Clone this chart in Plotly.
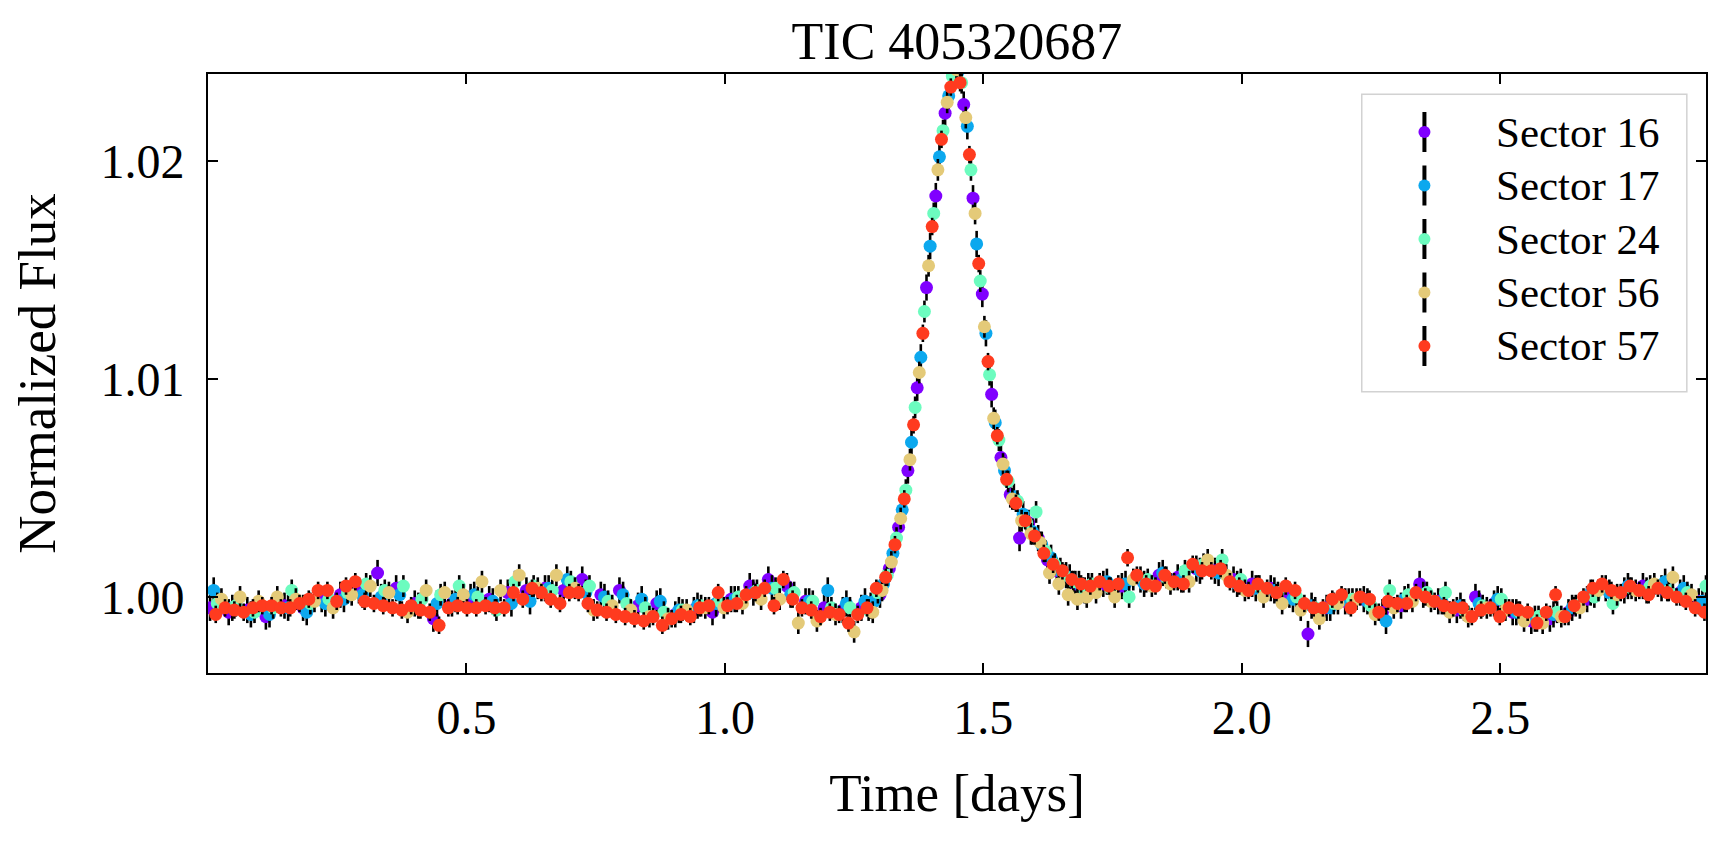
import plotly.graph_objects as go

# ---------------- data ----------------
sector_names = ["Sector 16", "Sector 17", "Sector 24", "Sector 56", "Sector 57"]
sector_colors = ["#8000ff", "#0ca8ee", "#6cfcbf", "#e4ca78", "#ff3b1f"]
flux_err = [0.0006, 0.0006, 0.0005, 0.0005, 0.0004]

x_tick_vals = [0.5, 1.0, 1.5, 2.0, 2.5]
x_tick_text = ["0.5", "1.0", "1.5", "2.0", "2.5"]
y_tick_vals = [1.00, 1.01, 1.02]
y_tick_text = ["1.00", "1.01", "1.02"]

time_s16 = [0.004, 0.040, 0.076, 0.112, 0.148, 0.184, 0.220, 0.256, 0.292, 0.328, 0.364, 0.400,
            0.436, 0.472, 0.508, 0.544, 0.580, 0.616, 0.652, 0.688, 0.724, 0.760, 0.796, 0.832,
            0.868, 0.904, 0.940, 0.976, 1.012, 1.048, 1.084, 1.120, 1.156, 1.192, 1.228, 1.264,
            1.282, 1.300, 1.318, 1.336, 1.354, 1.372, 1.390, 1.408, 1.426, 1.444, 1.462, 1.480,
            1.498, 1.516, 1.534, 1.552, 1.570, 1.588, 1.606, 1.624, 1.642, 1.660, 1.678, 1.696,
            1.732, 1.768, 1.804, 1.840, 1.876, 1.912, 1.948, 1.984, 2.020, 2.056, 2.092, 2.128,
            2.164, 2.200, 2.236, 2.272, 2.308, 2.344, 2.380, 2.416, 2.452, 2.488, 2.524, 2.560,
            2.596, 2.632, 2.668, 2.704, 2.740, 2.776, 2.812, 2.848, 2.884]
flux_s16 = [0.9995, 0.9993, 0.9994, 0.9991, 0.9996, 0.9995, 0.9999, 1.0001, 1.0003, 1.0011, 1.0004, 0.9997,
            0.9990, 0.9997, 1.0000, 0.9999, 1.0002, 1.0003, 1.0004, 1.0003, 1.0008, 1.0001, 1.0003, 0.9996,
            0.9997, 0.9992, 0.9994, 0.9993, 0.9999, 1.0005, 1.0008, 1.0005, 0.9998, 0.9995, 0.9994, 0.9995,
            0.9996, 1.0001, 1.0013, 1.0032, 1.0058, 1.0096, 1.0142, 1.0184, 1.0222, 1.0241, 1.0226, 1.0183,
            1.0139, 1.0093, 1.0064, 1.0047, 1.0027, 1.0034, 1.0027, 1.0017, 1.0012, 1.0010, 1.0006, 1.0003,
            1.0006, 1.0005, 1.0008, 1.0010, 1.0009, 1.0013, 1.0012, 1.0008, 1.0006, 1.0004, 1.0001, 0.9983,
            0.9995, 0.9998, 0.9999, 0.9993, 0.9996, 1.0006, 0.9998, 0.9994, 1.0000, 0.9997, 0.9993, 0.9989,
            0.9990, 0.9993, 0.9999, 1.0004, 1.0003, 1.0005, 1.0004, 1.0002, 0.9998]

time_s17 = [0.011, 0.047, 0.083, 0.119, 0.155, 0.191, 0.227, 0.263, 0.299, 0.335, 0.371, 0.407,
            0.443, 0.479, 0.515, 0.551, 0.587, 0.623, 0.659, 0.695, 0.731, 0.767, 0.803, 0.839,
            0.875, 0.911, 0.947, 0.983, 1.019, 1.055, 1.091, 1.127, 1.163, 1.199, 1.235, 1.271,
            1.289, 1.307, 1.325, 1.343, 1.361, 1.379, 1.397, 1.415, 1.433, 1.451, 1.469, 1.487,
            1.505, 1.523, 1.541, 1.559, 1.577, 1.595, 1.613, 1.631, 1.649, 1.667, 1.685, 1.703,
            1.739, 1.775, 1.811, 1.847, 1.883, 1.919, 1.955, 1.991, 2.027, 2.063, 2.099, 2.135,
            2.171, 2.207, 2.243, 2.279, 2.315, 2.351, 2.387, 2.423, 2.459, 2.495, 2.531, 2.567,
            2.603, 2.639, 2.675, 2.711, 2.747, 2.783, 2.819, 2.855, 2.891]
flux_s17 = [1.0003, 0.9995, 0.9992, 0.9992, 0.9995, 0.9993, 0.9997, 0.9999, 1.0001, 1.0000, 1.0001, 0.9996,
            0.9997, 0.9999, 1.0001, 0.9998, 0.9997, 0.9998, 1.0004, 1.0008, 1.0002, 1.0000, 1.0001, 0.9999,
            0.9998, 0.9994, 0.9996, 0.9997, 0.9999, 1.0002, 1.0004, 1.0001, 0.9998, 1.0003, 0.9997, 0.9998,
            0.9998, 1.0006, 1.0020, 1.0040, 1.0071, 1.0110, 1.0161, 1.0202, 1.0230, 1.0241, 1.0216, 1.0162,
            1.0121, 1.0080, 1.0058, 1.0046, 1.0038, 1.0030, 1.0024, 1.0018, 1.0012, 1.0009, 1.0006, 1.0005,
            1.0007, 1.0006, 1.0006, 1.0011, 1.0008, 1.0012, 1.0011, 1.0006, 1.0004, 1.0003, 0.9999, 0.9996,
            0.9995, 0.9998, 0.9998, 0.9989, 0.9999, 1.0001, 0.9998, 0.9996, 0.9997, 0.9999, 0.9993, 0.9990,
            0.9992, 0.9995, 1.0002, 1.0002, 1.0005, 1.0003, 1.0007, 1.0004, 0.9998]

time_s24 = [0.018, 0.054, 0.090, 0.126, 0.162, 0.198, 0.234, 0.270, 0.306, 0.342, 0.378, 0.414,
            0.450, 0.486, 0.522, 0.558, 0.594, 0.630, 0.666, 0.702, 0.738, 0.774, 0.810, 0.846,
            0.882, 0.918, 0.954, 0.990, 1.026, 1.062, 1.098, 1.134, 1.170, 1.206, 1.242, 1.278,
            1.296, 1.314, 1.332, 1.350, 1.368, 1.386, 1.404, 1.422, 1.440, 1.458, 1.476, 1.494,
            1.512, 1.530, 1.548, 1.566, 1.584, 1.602, 1.620, 1.638, 1.656, 1.674, 1.692, 1.710,
            1.746, 1.782, 1.818, 1.854, 1.890, 1.926, 1.962, 1.998, 2.034, 2.070, 2.106, 2.142,
            2.178, 2.214, 2.250, 2.286, 2.322, 2.358, 2.394, 2.430, 2.466, 2.502, 2.538, 2.574,
            2.610, 2.646, 2.682, 2.718, 2.754, 2.790, 2.826, 2.862, 2.898]
flux_s24 = [0.9997, 0.9996, 0.9993, 0.9995, 1.0003, 0.9997, 0.9999, 1.0002, 1.0006, 1.0003, 1.0005, 0.9999,
            1.0001, 1.0005, 1.0000, 0.9994, 1.0007, 1.0005, 1.0003, 1.0007, 1.0005, 0.9998, 0.9997, 0.9995,
            0.9993, 0.9994, 0.9996, 0.9998, 1.0000, 1.0003, 1.0004, 1.0002, 0.9998, 0.9995, 0.9995, 0.9994,
            1.0002, 1.0010, 1.0027, 1.0049, 1.0087, 1.0131, 1.0176, 1.0214, 1.0239, 1.0236, 1.0196, 1.0145,
            1.0102, 1.0072, 1.0053, 1.0044, 1.0034, 1.0039, 1.0021, 1.0015, 1.0010, 1.0007, 1.0004, 1.0006,
            1.0004, 1.0000, 1.0008, 1.0009, 1.0012, 1.0015, 1.0017, 1.0008, 1.0005, 1.0002, 1.0000, 0.9995,
            0.9997, 0.9999, 0.9996, 1.0003, 1.0001, 1.0002, 1.0002, 0.9994, 0.9996, 0.9999, 0.9993, 0.9991,
            0.9993, 0.9996, 1.0000, 0.9997, 1.0004, 1.0005, 1.0003, 1.0002, 1.0005]

time_s56 = [0.026, 0.062, 0.098, 0.134, 0.170, 0.206, 0.242, 0.278, 0.314, 0.350, 0.386, 0.422,
            0.458, 0.494, 0.530, 0.566, 0.602, 0.638, 0.674, 0.710, 0.746, 0.782, 0.818, 0.854,
            0.890, 0.926, 0.962, 0.998, 1.034, 1.070, 1.106, 1.142, 1.178, 1.214, 1.250, 1.286,
            1.304, 1.322, 1.340, 1.358, 1.376, 1.394, 1.412, 1.430, 1.448, 1.466, 1.484, 1.502,
            1.520, 1.538, 1.556, 1.574, 1.592, 1.610, 1.628, 1.646, 1.664, 1.682, 1.700, 1.718,
            1.754, 1.790, 1.826, 1.862, 1.898, 1.934, 1.970, 2.006, 2.042, 2.078, 2.114, 2.150,
            2.186, 2.222, 2.258, 2.294, 2.330, 2.366, 2.402, 2.438, 2.474, 2.510, 2.546, 2.582,
            2.618, 2.654, 2.690, 2.726, 2.762, 2.798, 2.834, 2.870]
flux_s56 = [0.9999, 1.0000, 0.9998, 1.0000, 0.9999, 0.9998, 0.9995, 1.0001, 1.0005, 1.0002, 0.9993, 1.0003,
            1.0002, 1.0001, 1.0007, 1.0003, 1.0010, 1.0004, 1.0010, 1.0004, 0.9994, 0.9996, 0.9994, 0.9991,
            0.9990, 0.9994, 0.9995, 0.9995, 0.9997, 0.9999, 0.9999, 0.9988, 0.9989, 0.9992, 0.9984, 0.9993,
            1.0003, 1.0016, 1.0036, 1.0063, 1.0103, 1.0152, 1.0196, 1.0227, 1.0242, 1.0220, 1.0176, 1.0124,
            1.0082, 1.0061, 1.0045, 1.0035, 1.0029, 1.0025, 1.0011, 1.0006, 1.0001, 0.9999, 1.0000, 1.0002,
            1.0000, 1.0008, 1.0005, 1.0006, 1.0007, 1.0017, 1.0010, 1.0003, 1.0000, 0.9997, 0.9994, 0.9990,
            0.9997, 0.9999, 0.9992, 0.9995, 0.9998, 0.9998, 0.9993, 0.9991, 0.9995, 0.9994, 0.9989, 0.9988,
            0.9991, 0.9995, 1.0003, 1.0001, 1.0003, 1.0006, 1.0009, 1.0001]

time_s57 = [0.015, 0.033, 0.051, 0.069, 0.087, 0.105, 0.123, 0.141, 0.159, 0.177,
            0.195, 0.213, 0.231, 0.249, 0.267, 0.285, 0.303, 0.321, 0.339, 0.357,
            0.375, 0.393, 0.411, 0.429, 0.447, 0.465, 0.483, 0.501, 0.519, 0.537,
            0.555, 0.573, 0.591, 0.609, 0.627, 0.645, 0.663, 0.681, 0.699, 0.717,
            0.735, 0.753, 0.771, 0.789, 0.807, 0.825, 0.843, 0.861, 0.879, 0.897,
            0.915, 0.933, 0.951, 0.969, 0.987, 1.005, 1.023, 1.041, 1.059, 1.077,
            1.095, 1.113, 1.131, 1.149, 1.167, 1.185, 1.203, 1.221, 1.239, 1.257,
            1.275,
            1.293, 1.311, 1.329, 1.347, 1.365, 1.383, 1.401, 1.419, 1.437, 1.455,
            1.473, 1.491, 1.509, 1.527, 1.545, 1.563, 1.581, 1.599, 1.617, 1.635,
            1.653, 1.671, 1.689, 1.707, 1.725,
            1.743, 1.761, 1.779, 1.797, 1.815, 1.833, 1.851, 1.869, 1.887, 1.905,
            1.923, 1.941, 1.959, 1.977, 1.995, 2.013, 2.031, 2.049, 2.067, 2.085,
            2.103, 2.121, 2.139, 2.157, 2.175, 2.193, 2.211, 2.229, 2.247, 2.265,
            2.283, 2.301, 2.319, 2.337, 2.355, 2.373, 2.391, 2.409, 2.427, 2.445,
            2.463, 2.481, 2.499, 2.517, 2.535, 2.553, 2.571, 2.589, 2.607, 2.625,
            2.643, 2.661, 2.679, 2.697, 2.715, 2.733, 2.751, 2.769, 2.787, 2.805,
            2.823, 2.841, 2.859, 2.877, 2.895]
flux_s57 = [0.9992, 0.9995, 0.9994, 0.9993, 0.9995, 0.9996, 0.9996, 0.9995, 0.9995, 0.9997,
            0.9999, 1.0003, 1.0003, 0.9998, 1.0005, 1.0007, 0.9998, 0.9997, 0.9996, 0.9995,
            0.9994, 0.9996, 0.9994, 0.9993, 0.9987, 0.9995, 0.9996, 0.9995, 0.9995, 0.9996,
            0.9995, 0.9995, 1.0002, 0.9999, 1.0004, 1.0002, 0.9999, 0.9997, 1.0002, 1.0002,
            0.9997, 0.9994, 0.9993, 0.9992, 0.9991, 0.9990, 0.9989, 0.9991, 0.9987, 0.9990,
            0.9992, 0.9991, 0.9995, 0.9996, 1.0002, 0.9996, 0.9997, 1.0001, 1.0002, 1.0004,
            0.9996, 1.0008, 0.9999, 0.9995, 0.9994, 0.9991, 0.9993, 0.9992, 0.9988, 0.9992,
            0.9995,
            1.0004, 1.0009, 1.0024, 1.0045, 1.0079, 1.0121, 1.0170, 1.0210, 1.0234, 1.0236,
            1.0203, 1.0153, 1.0108, 1.0074, 1.0054, 1.0043, 1.0035, 1.0028, 1.0020, 1.0015,
            1.0012, 1.0008, 1.0006, 1.0005, 1.0007,
            1.0005, 1.0006, 1.0018, 1.0010, 1.0006, 1.0005, 1.0010, 1.0007, 1.0006, 1.0015,
            1.0012, 1.0012, 1.0013, 1.0007, 1.0005, 1.0003, 1.0006, 1.0004, 1.0002, 1.0005,
            1.0003, 0.9997, 0.9995, 0.9995, 0.9999, 1.0001, 0.9995, 1.0000, 0.9999, 0.9993,
            0.9998, 0.9997, 0.9997, 1.0002, 1.0000, 0.9998, 0.9996, 0.9995, 0.9995, 0.9991,
            0.9994, 0.9995, 0.9991, 0.9995, 0.9994, 0.9993, 0.9988, 0.9993, 1.0001, 0.9991,
            0.9996, 1.0000, 1.0004, 1.0006, 1.0003, 1.0002, 1.0005, 1.0003, 1.0001, 1.0004,
            1.0002, 1.0000, 0.9998, 0.9995, 0.9993]

sector_times = [time_s16, time_s17, time_s24, time_s56, time_s57]
sector_fluxes = [flux_s16, flux_s17, flux_s24, flux_s56, flux_s57]

for nm, t, f in zip(sector_names, sector_times, sector_fluxes):
    assert len(t) == len(f), (nm, len(t), len(f))

# ---------------- figure ----------------
# (the page body has an 8 px default margin, so the figure is sized to fit inside it)
FONT = "Liberation Serif"
FIG_W, FIG_H = 1711, 830
fig = go.Figure()

for nm, col, err, t, f in zip(sector_names, sector_colors, flux_err, sector_times, sector_fluxes):
    fig.add_trace(go.Scatter(
        x=t, y=f, mode="markers", name=nm, showlegend=False,
        marker=dict(color=col, size=13, line=dict(width=0)),
        error_y=dict(type="constant", value=err, color="black", thickness=2.6, width=0),
    ))

# legend drawn in a small inset axis (matplotlib-style errorbar glyphs)
legend_rows = [37, 90.5, 144, 197.5, 251]
for i, (nm, col) in enumerate(zip(sector_names, sector_colors)):
    fig.add_trace(go.Scatter(
        x=[62], y=[legend_rows[i]], xaxis="x2", yaxis="y2", mode="markers",
        showlegend=False, hoverinfo="skip",
        marker=dict(color=col, size=12, line=dict(width=0)),
        error_y=dict(type="constant", value=20, color="black", thickness=4, width=0),
    ))
    fig.add_annotation(x=132, y=legend_rows[i], xref="x2", yref="y2", text=nm,
                       showarrow=False, xanchor="left", yanchor="middle",
                       font=dict(family=FONT, size=43, color="black"))

fig.add_shape(type="rect", xref="x2 domain", yref="y2 domain", x0=0, x1=1, y0=0, y1=1,
              line=dict(color="#d2d2d2", width=3), fillcolor="white", layer="below")

axis_common = dict(
    ticks="inside", ticklen=10, tickwidth=1.8, tickcolor="black",
    showline=True, linewidth=2, linecolor="black", mirror="ticks",
    showgrid=False, zeroline=False,
    tickfont=dict(family=FONT, size=48, color="black"),
)

fig.update_layout(
    width=FIG_W, height=FIG_H,
    margin=dict(l=200, r=11, t=66, b=165),
    paper_bgcolor="white", plot_bgcolor="white",
    font=dict(family=FONT, color="black", size=48),
    title=dict(text="TIC 405320687", x=0.5, xref="paper", xanchor="center",
               y=1 - 33 / FIG_H, yref="container", yanchor="middle",
               font=dict(family=FONT, size=52, color="black")),
    xaxis=dict(range=[0.0, 2.898], tickvals=x_tick_vals, ticktext=x_tick_text,
               ticklabelstandoff=1,
               title=dict(text="Time [days]", font=dict(family=FONT, size=53, color="black"), standoff=31),
               **axis_common),
    yaxis=dict(range=[0.99651, 1.0240], tickvals=y_tick_vals, ticktext=y_tick_text,
               ticklabelstandoff=12,
               title=dict(text="Normalized Flux", font=dict(family=FONT, size=53, color="black"), standoff=29),
               **axis_common),
    xaxis2=dict(domain=[0.7707, 0.9867], anchor="y2", range=[0, 324], visible=False, fixedrange=True),
    yaxis2=dict(domain=[0.4708, 0.9649], anchor="x2", range=[296, 0], visible=False, fixedrange=True),
    hovermode=False,
)

fig.write_html("out.html")
